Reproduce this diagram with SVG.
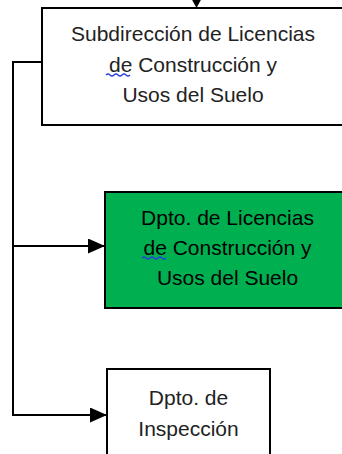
<svg xmlns="http://www.w3.org/2000/svg" width="342" height="454" viewBox="0 0 342 454">
  <defs>
    <marker id="arr" markerWidth="17" markerHeight="15" refX="17" refY="7.5" orient="auto" markerUnits="userSpaceOnUse">
      <path d="M0,0 L17,7.5 L0,15 Z" fill="#000"/>
    </marker>
  </defs>
  <style>
    .box { fill: #fff; stroke: #000; stroke-width: 2; }
    .green { fill: #00B050; stroke: #000; stroke-width: 2; }
    .lbl { font-family: "Liberation Sans", Arial, sans-serif; font-size: 21px; text-anchor: middle; fill: #222; }
    .lblg { font-family: "Liberation Sans", Arial, sans-serif; font-size: 21px; text-anchor: middle; fill: #000; }
    .conn { fill: none; stroke: #000; stroke-width: 2; }
    .squig { fill: none; stroke: #2a3cdc; stroke-width: 1.2; }
  </style>
  <g id="connectors">
    <polyline class="conn" points="42,62 13,62 13,415 107,415" marker-end="url(#arr)"/>
    <line class="conn" x1="13" y1="246" x2="105" y2="246" marker-end="url(#arr)"/>
    <line class="conn" x1="196.5" y1="-20" x2="196.5" y2="0"/>
    <polygon points="190,-4 203,-4 196.5,8" fill="#000"/>
  </g>
  <g id="subdireccion">
    <rect class="box" x="42" y="8" width="302" height="117"/>
    <text class="lbl" x="193" y="41">Subdirección de Licencias</text>
    <text class="lbl" x="193" y="72">de Construcción y</text>
    <text class="lbl" x="193" y="102">Usos del Suelo</text>
    <path class="squig" d="M106,75 q2,-2 4,0 t4,0 t4,0 t4,0 t4,0 t4,0"/>
  </g>
  <g id="dpto-licencias">
    <rect class="green" x="105" y="192" width="245" height="116"/>
    <text class="lblg" x="227.5" y="225">Dpto. de Licencias</text>
    <text class="lblg" x="227.5" y="255">de Construcción y</text>
    <text class="lblg" x="227.5" y="285">Usos del Suelo</text>
    <path class="squig" d="M142,258 q2,-2 4,0 t4,0 t4,0 t4,0 t4,0 t4,0"/>
  </g>
  <g id="dpto-inspeccion">
    <rect class="box" x="107" y="369" width="163" height="100"/>
    <text class="lbl" x="188.5" y="405">Dpto. de</text>
    <text class="lbl" x="188.5" y="436">Inspección</text>
  </g>
</svg>
